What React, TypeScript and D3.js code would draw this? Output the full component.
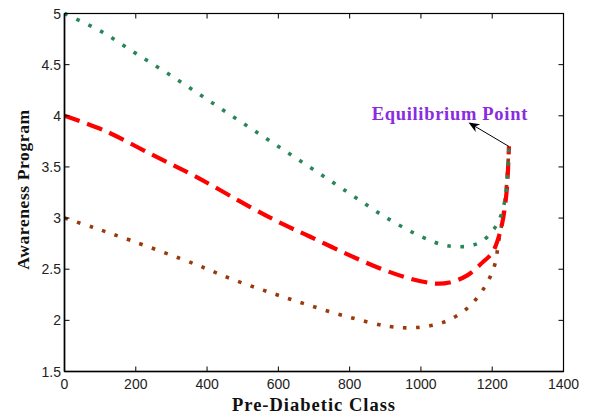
import React from "react";
import * as d3 from "d3";

const greenX = [0, 100, 200, 300, 400, 500, 600, 700, 800, 900, 1000, 1060, 1100, 1140, 1170, 1200, 1218, 1230, 1237, 1243, 1247];
const greenY = [5.0, 4.83, 4.61, 4.39, 4.16, 3.93, 3.70, 3.47, 3.24, 3.01, 2.82, 2.74, 2.72, 2.73, 2.77, 2.87, 2.97, 3.09, 3.21, 3.45, 3.70];

const redX = [0, 109, 240, 371, 520, 613, 688, 791, 884, 968, 1040, 1080, 1130, 1174, 1200, 1215, 1228, 1236, 1242, 1247];
const redY = [4.0, 3.86, 3.63, 3.40, 3.11, 2.94, 2.82, 2.65, 2.51, 2.41, 2.36, 2.37, 2.44, 2.57, 2.66, 2.78, 2.95, 3.12, 3.33, 3.70];

const brownX = [0, 79, 187, 366, 472, 579, 684, 800, 912, 987, 1062, 1127, 1174, 1206, 1218, 1230, 1239, 1247];
const brownY = [3.0, 2.91, 2.78, 2.55, 2.40, 2.27, 2.15, 2.03, 1.94, 1.93, 1.98, 2.11, 2.30, 2.53, 2.77, 3.01, 3.27, 3.70];

const xTicks = [0, 200, 400, 600, 800, 1000, 1200, 1400];
const yTicks = [1.5, 2, 2.5, 3, 3.5, 4, 4.5, 5];

const equilibrium = { x: 1247, y: 3.7 };
const annotationText = "Equilibrium Point";
const xLabel = "Pre-Diabetic Class";
const yLabel = "Awareness Program";

export default function App() {
  const W = 590, H = 416;
  const left = 64.5, right = 563.5, top = 13.5, bottom = 371.5;
  const x = d3.scaleLinear().domain([0, 1400]).range([left, right]);
  const y = d3.scaleLinear().domain([1.5, 5]).range([bottom, top]);
  const line = d3
    .line<[number, number]>()
    .x((d) => x(d[0]))
    .y((d) => y(d[1]))
    .curve(d3.curveCatmullRom.alpha(0.5));
  const zip = (a: number[], b: number[]) => a.map((v, i) => [v, b[i]] as [number, number]);

  const tickFont = "'Liberation Sans', Arial, sans-serif";
  const serif = "'Liberation Serif', 'Times New Roman', serif";
  const tl = 5;

  const ex = x(equilibrium.x), ey = y(equilibrium.y);
  const hx = 468.5, hy = 122.5;
  const ang = Math.atan2(ey - hy, ex - hx);
  const al = 11, aw = 4.5;
  const p1 = [hx + al * Math.cos(ang) - aw * Math.sin(ang), hy + al * Math.sin(ang) + aw * Math.cos(ang)];
  const p2 = [hx + al * Math.cos(ang) + aw * Math.sin(ang), hy + al * Math.sin(ang) - aw * Math.cos(ang)];
  const pm = [hx + al * 0.7 * Math.cos(ang), hy + al * 0.7 * Math.sin(ang)];

  return (
    <svg width={W} height={H} style={{ position: "absolute", left: 0, top: 0, background: "#fff" }}>
      <rect x={0} y={0} width={W} height={H} fill="#fff" />
      {/* curves */}
      <path d={line(zip(brownX, brownY)) || ""} fill="none" stroke="#9a3a0c" strokeWidth={3.6} strokeDasharray="3.6,9.6" />
      <path d={line(zip(redX, redY)) || ""} fill="none" stroke="#ff0000" strokeWidth={4.2} strokeDasharray="16,8" />
      <path d={line(zip(greenX, greenY)) || ""} fill="none" stroke="#2a8659" strokeWidth={3.6} strokeDasharray="3.6,9.6" />
      {/* frame */}
      <rect x={left} y={top} width={right - left} height={bottom - top} fill="none" stroke="#000" strokeWidth={1.2} />
      <line x1={left} x2={right} y1={bottom} y2={bottom} stroke="#000" strokeWidth={1.6} />
      <line x1={left} x2={left} y1={top} y2={bottom} stroke="#000" strokeWidth={1.6} />
      {xTicks.map((t) => (
        <g key={"x" + t}>
          <line x1={x(t)} x2={x(t)} y1={bottom} y2={bottom - tl} stroke="#000" strokeWidth={1} />
          <line x1={x(t)} x2={x(t)} y1={top} y2={top + tl} stroke="#000" strokeWidth={1} />
          <text x={x(t)} y={389} textAnchor="middle" fontFamily={tickFont} fontSize={14} fill="#222">
            {t}
          </text>
        </g>
      ))}
      {yTicks.map((t) => (
        <g key={"y" + t}>
          <line x1={left} x2={left + tl} y1={y(t)} y2={y(t)} stroke="#000" strokeWidth={1} />
          <line x1={right} x2={right - tl} y1={y(t)} y2={y(t)} stroke="#000" strokeWidth={1} />
          <text x={61} y={y(t) + 5} textAnchor="end" fontFamily={tickFont} fontSize={14} fill="#222">
            {t}
          </text>
        </g>
      ))}
      {/* annotation */}
      <line x1={ex} y1={ey} x2={pm[0]} y2={pm[1]} stroke="#000" strokeWidth={1} />
      <polygon points={`${hx},${hy} ${p1[0]},${p1[1]} ${pm[0]},${pm[1]} ${p2[0]},${p2[1]}`} fill="#000" />
      <text x={528} y={120} textAnchor="end" fontFamily={serif} fontWeight="bold" fontSize={18.5} letterSpacing={0.7} fill="#8a2be2">
        {annotationText}
      </text>
      {/* axis labels */}
      <text x={(left + right) / 2} y={411} textAnchor="middle" fontFamily={serif} fontWeight="bold" fontSize={18.5} letterSpacing={1} fill="#111">
        {xLabel}
      </text>
      <text
        transform={`translate(29, ${(top + bottom) / 2 - 3}) rotate(-90)`}
        textAnchor="middle"
        fontFamily={serif}
        fontWeight="bold"
        fontSize={17.5}
        letterSpacing={0.6}
        fill="#111"
      >
        {yLabel}
      </text>
    </svg>
  );
}
